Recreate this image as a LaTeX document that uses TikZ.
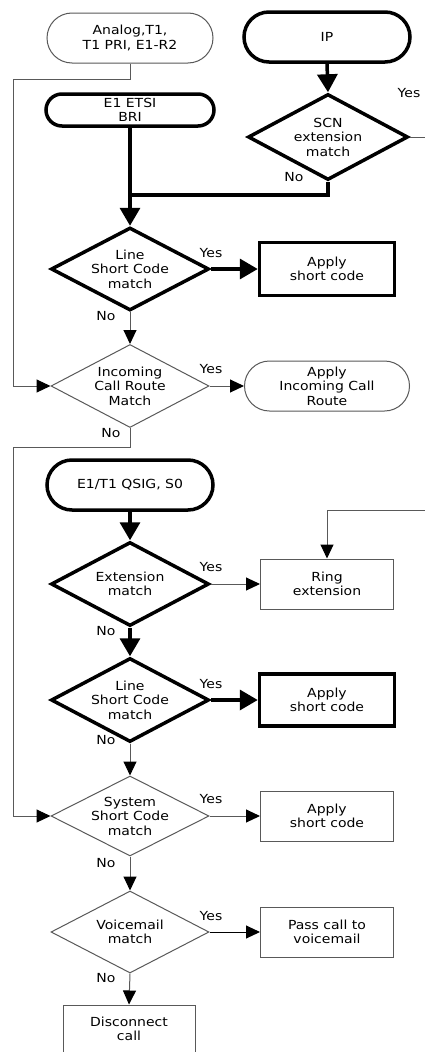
\documentclass[tikz,border=0pt]{standalone}
\usepackage{fontspec}
\setmainfont{DejaVu Sans}[FakeStretch=1.12]
\usetikzlibrary{shapes.geometric,arrows.meta}
\begin{document}
\begin{tikzpicture}[x=1pt,y=-1pt,
  txt/.style={font=\fontsize{12.5}{14.5}\selectfont, align=center},
  pill/.style={draw, rectangle, rounded corners=25pt, minimum width=166pt, minimum height=50pt, inner sep=0pt, txt},
  box/.style={draw, rectangle, minimum width=134pt, minimum height=51pt, inner sep=0pt, txt},
  dia/.style={draw, diamond, minimum width=158pt, minimum height=83pt, inner sep=0pt},
  heavy/.style={line width=3.5pt},
  light/.style={line width=1pt, draw=black!65},
  harrow/.style={line width=3.5pt, -{Triangle[length=18pt,width=20pt]}},
  larrow/.style={line width=1pt, draw=black!65, -{Triangle[length=14pt,width=13pt,color=black]}},
  lbl/.style={txt, inner sep=0pt}
]
\fill[white] (0,0) rectangle (424,1052);
\useasboundingbox (0,0) rectangle (424,1052);

% nodes
\node[pill, light] (analog) at (130,38) {Analog,T1,\\T1 PRI, E1-R2};
\node[pill, heavy] (ip) at (327,37) {IP};
\node[dia, heavy, minimum width=160pt, minimum height=86pt, label={[txt]center:{SCN\\extension\\match}}] (scn) at (328,137) {};
\node[pill, heavy, minimum width=168pt, minimum height=32pt, rounded corners=16pt] (e1) at (130,110) {E1 ETSI\\BRI};

\node[dia, heavy, label={[txt]center:{Line\\Short Code\\match}}] (lsc1) at (130,269) {};
\node[box, heavy, minimum width=135pt, minimum height=53pt] (asc1) at (327,269) {Apply\\short code};

\node[dia, light, label={[txt]center:{Incoming\\Call Route\\Match}}] (icr) at (130,386) {};
\node[pill, light, minimum width=165pt] (aicr) at (327,386) {Apply\\Incoming Call\\Route};

\node[pill, heavy] (qsig) at (130,485) {E1/T1 QSIG, S0};
\node[dia, heavy, minimum height=84pt, label={[txt]center:{Extension\\match}}] (ext) at (130,584) {};
\node[box, light, minimum width=133pt, minimum height=50pt] (ring) at (327,584) {Ring\\extension};

\node[dia, heavy, minimum height=84pt, label={[txt]center:{Line\\Short Code\\match}}] (lsc2) at (130,700) {};
\node[box, heavy, minimum width=135pt, minimum height=52pt] (asc2) at (327,700) {Apply\\short code};

\node[dia, light, minimum height=80pt, label={[txt]center:{System\\Short Code\\match}}] (ssc) at (130,816) {};
\node[box, light, minimum width=133pt, minimum height=50pt] (asc3) at (327,816) {Apply\\short code};

\node[dia, light, minimum height=82pt, label={[txt]center:{Voicemail\\match}}] (vm) at (130,932) {};
\node[box, light, minimum width=133pt, minimum height=50pt] (pass) at (327,932) {Pass call to\\voicemail};

\node[box, light, minimum width=132pt, minimum height=48pt] (disc) at (129,1029) {Disconnect\\call};

% coordinates
\coordinate (a1) at (13,79);
\coordinate (j1) at (130,195);
\coordinate (sy) at (436,137);
\coordinate (ry) at (436,510);
\coordinate (b1) at (13,447);

% connectors
\draw[larrow] (analog.south) |- (a1) |- (icr.west);
\draw[harrow] (ip.south) -- (scn.north);
\draw[heavy] (scn.south) |- (j1);
\draw[harrow] (e1.south) -- (lsc1.north);
\draw[larrow] (scn.east) -- (sy) -- (ry) -| (ring.north);
\draw[harrow] (lsc1.east) -- (asc1.west);
\draw[larrow] (lsc1.south) -- (icr.north);
\draw[larrow] (icr.east) -- (aicr.west);
\draw[larrow] (icr.south) |- (b1) |- (ssc.west);
\draw[harrow] (qsig.south) -- (ext.north);
\draw[larrow] (ext.east) -- (ring.west);
\draw[harrow] (ext.south) -- (lsc2.north);
\draw[harrow] (lsc2.east) -- (asc2.west);
\draw[larrow] (lsc2.south) -- (ssc.north);
\draw[larrow] (ssc.east) -- (asc3.west);
\draw[larrow] (ssc.south) -- (vm.north);
\draw[larrow, draw=black] (vm.east) -- (pass.west);
\draw[larrow] (vm.south) -- (disc.north);

% labels
\node[lbl] (l1) at (409,93) {Yes};
\node[lbl] (l2) at (294,177) {No};
\node[lbl] (l3) at (211,253) {Yes};
\node[lbl] (l4) at (106,316) {No};
\node[lbl] (l5) at (211,369) {Yes};
\node[lbl] (l6) at (111,433) {No};
\node[lbl] (l7) at (211,567) {Yes};
\node[lbl] (l8) at (106,631) {No};
\node[lbl] (l9) at (211,684) {Yes};
\node[lbl] (l10) at (106,740) {No};
\node[lbl] (l11) at (211,799) {Yes};
\node[lbl] (l12) at (106,863) {No};
\node[lbl] (l13) at (211,916) {Yes};
\node[lbl] (l14) at (106,978) {No};
\end{tikzpicture}
\end{document}
